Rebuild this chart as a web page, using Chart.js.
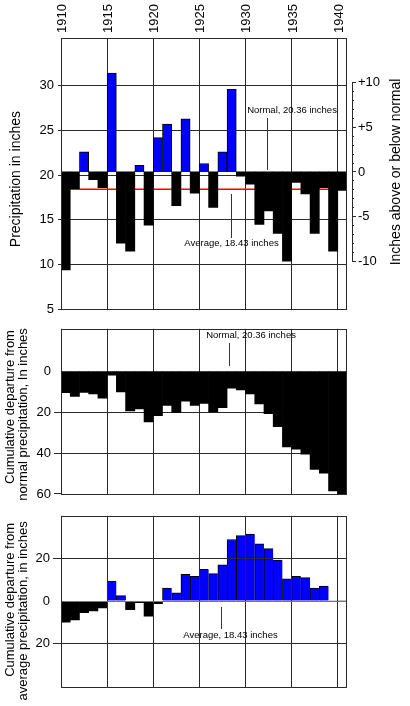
<!DOCTYPE html>
<html>
<head>
<meta charset="utf-8">
<script src="https://cdn.jsdelivr.net/npm/chart.js@4.4.1/dist/chart.umd.min.js"></script>
<style>
  html, body { margin: 0; padding: 0; background: #fff; width: 410px; height: 706px; overflow: hidden; }
  canvas { position: absolute; left: 0; }
  #c1 { top: 0; }
  #c2 { top: 318px; }
  #c3 { top: 505px; }
</style>
</head>
<body>
<canvas id="c1" width="410" height="322" style="width:410px;height:322px"></canvas>
<canvas id="c2" width="410" height="188" style="width:410px;height:188px"></canvas>
<canvas id="c3" width="410" height="201" style="width:410px;height:201px"></canvas>
<script>
// ---------------- data ----------------
const years = [1910, 1911, 1912, 1913, 1914, 1915, 1916, 1917, 1918, 1919,
               1920, 1921, 1922, 1923, 1924, 1925, 1926, 1927, 1928, 1929,
               1930, 1931, 1932, 1933, 1934, 1935, 1936, 1937, 1938, 1939, 1940];
const yearTicks = [1910, 1915, 1920, 1925, 1930, 1935, 1940];

// annual precipitation, inches
const precipitation = [9.4, 18.5, 22.6, 19.5, 18.6, 31.4, 12.4, 11.5, 21.1, 14.4,
                       24.2, 25.7, 16.6, 26.3, 18.0, 21.3, 16.4, 22.6, 29.6, 19.9,
                       19.0, 14.5, 16.0, 13.5, 10.4, 19.2, 17.9, 13.5, 18.6, 11.5, 18.3];
const normalPrecip = 20.36;
const averagePrecip = 18.43;

// cumulative departure from normal, inches
const cumFromNormal = [-10.5, -12.3, -10.4, -11.1, -13.2, -2.0, -10.2, -19.4, -18.5, -24.8,
                       -21.7, -16.7, -20.2, -14.7, -16.7, -15.7, -19.9, -17.8, -8.3, -9.2,
                       -11.1, -16.0, -20.8, -27.1, -37.0, -38.1, -40.6, -48.0, -49.8, -58.5, -60.2];

// cumulative departure from average, inches
const cumFromAverage = [-10.0, -8.9, -5.5, -4.7, -3.3, 9.4, 2.6, -4.1, -0.8, -7.1,
                        -1.2, 6.1, 3.9, 12.6, 11.7, 15.0, 13.0, 17.1, 29.1, 30.9,
                        31.7, 27.1, 24.8, 19.4, 10.5, 11.7, 11.1, 6.1, 7.1, 0.2, 0.0];

const precipTicks = [30, 25, 20, 15, 10, 5];
const departureTicks = [10, 5, 0, -5, -10];
const cumNormalTicks = [0, -20, -40, -60];
const cumAverageTicks = [20, 0, -20];

// ---------------- style ----------------
const FONT = "'Liberation Sans', Arial, Helvetica, sans-serif";
const GRID = '#2a2a2a';
const BLUE = '#0000ff';
const BLACK = '#000000';
const CLEAR = 'rgba(0,0,0,0)';
Chart.defaults.font.family = FONT;
Chart.defaults.font.size = 13;
Chart.defaults.color = '#000';
Chart.defaults.animation = false;

const X_MIN = 1910, X_MAX = 1941;

const framePlugin = {
  id: 'frame',
  afterDraw(chart) {
    const { ctx, chartArea: a } = chart;
    ctx.save();
    ctx.strokeStyle = GRID;
    ctx.lineWidth = 1;
    const l = Math.round(a.left) + 0.5, t = Math.round(a.top) + 0.5;
    const r = Math.round(a.right) - 0.5, b = Math.round(a.bottom) - 0.5;
    ctx.strokeRect(l, t, r - l, b - t);
    ctx.restore();
  }
};

const notesPlugin = {
  id: 'notes',
  afterDraw(chart, args, opts) {
    const xs = chart.scales.x, ys = chart.scales.y, ctx = chart.ctx;
    ctx.save();
    for (const n of (opts.items || [])) {
      if (n.line) {
        const px = Math.round(xs.getPixelForValue(n.line[0])) + 0.5;
        ctx.beginPath();
        ctx.moveTo(px, Math.round(ys.getPixelForValue(n.line[1])));
        ctx.lineTo(px, Math.round(ys.getPixelForValue(n.line[2])));
        ctx.strokeStyle = '#333';
        ctx.lineWidth = 1;
        ctx.stroke();
      }
      if (n.text) {
        ctx.font = '9.5px ' + FONT;
        ctx.fillStyle = '#000';
        ctx.textAlign = 'center';
        ctx.textBaseline = 'middle';
        ctx.fillText(n.text, xs.getPixelForValue(n.at[0]), ys.getPixelForValue(n.at[1]));
      }
    }
    ctx.restore();
  }
};

// rotated left-hand axis titles (one or two lines)
const leftTitlePlugin = {
  id: 'leftTitle',
  afterDraw(chart, args, opts) {
    const ctx = chart.ctx, a = chart.chartArea;
    const cy = (a.top + a.bottom) / 2;
    ctx.save();
    ctx.font = opts.size + 'px ' + FONT;
    ctx.fillStyle = '#000';
    ctx.textAlign = 'center';
    ctx.textBaseline = 'middle';
    (opts.lines || []).forEach((t, i) => {
      ctx.save();
      ctx.translate(opts.x[i], cy + opts.dy[i]);
      ctx.rotate(-Math.PI / 2);
      ctx.fillText(t, 0, 0);
      ctx.restore();
    });
    ctx.restore();
  }
};

const rightAxisPlugin = {
  id: 'rightAxis',
  afterDraw(chart, args, opts) {
    const s = chart.scales.y2;
    if (!s) return;
    const ctx = chart.ctx;
    const top = s.getPixelForValue(Math.max(...departureTicks));
    const bot = s.getPixelForValue(Math.min(...departureTicks));
    const x = Math.round(chart.chartArea.right + opts.gap) + 0.5;
    ctx.save();
    ctx.strokeStyle = GRID;
    ctx.lineWidth = 1;
    ctx.beginPath();
    ctx.moveTo(x, Math.round(top));
    ctx.lineTo(x, Math.round(bot) + 1);
    ctx.stroke();
    ctx.translate(opts.titleX, (top + bot) / 2);
    ctx.rotate(-Math.PI / 2);
    ctx.font = '14px ' + FONT;
    ctx.fillStyle = '#000';
    ctx.textAlign = 'center';
    ctx.textBaseline = 'alphabetic';
    ctx.fillText(opts.title, 0, 0);
    ctx.restore();
  }
};

function xAxis(position, withLabels, extra) {
  return Object.assign({
    type: 'linear', position, min: X_MIN, max: X_MAX, offset: false,
    afterBuildTicks: s => { s.ticks = yearTicks.map(v => ({ value: v })); },
    afterFit: s => { s.height = withLabels ? 38 : 0; },
    ticks: { display: withLabels, autoSkip: false, maxRotation: 90, minRotation: 90, padding: 5,
             labelOffset: 17, font: { size: 13 }, callback: v => String(v) },
    grid: { color: GRID, drawTicks: false, offset: false },
    border: { display: false }
  }, extra || {});
}

const xCenters = years.map(y => y + 0.5);

// ---------------- chart 1: annual precipitation ----------------
const depMin = 4.91, depMax = 35.33;
new Chart(document.getElementById('c1'), {
  data: {
    datasets: [
      {
        type: 'bar', label: 'Annual precipitation',
        data: years.map((y, i) => ({ x: xCenters[i], y: [normalPrecip, precipitation[i]] })),
        backgroundColor: c => precipitation[c.dataIndex] > normalPrecip ? BLUE : BLACK,
        borderColor: BLACK,
        borderWidth: c => precipitation[c.dataIndex] > normalPrecip ? 1 : 0,
        barPercentage: 1, categoryPercentage: 1,
        xAxisID: 'x', yAxisID: 'y', order: 1
      },
      {
        type: 'line', label: 'Average',
        data: [{ x: X_MIN, y: averagePrecip }, { x: X_MAX, y: averagePrecip }],
        borderColor: '#ff0000', borderWidth: 1.6, pointRadius: 0,
        xAxisID: 'x', yAxisID: 'y', order: 2
      }
    ]
  },
  options: {
    responsive: false,
    devicePixelRatio: 1,
    layout: { padding: { left: 0, right: 0, top: 0, bottom: 6 } },
    plugins: {
      legend: { display: false }, tooltip: { enabled: false },
      notes: { items: [
        { text: 'Normal, 20.36 inches', at: [1935.04, 27.2], line: [1932.33, 26.36, 20.56] },
        { text: 'Average, 18.43 inches', at: [1928.48, 12.35], line: [1928.42, 17.93, 13.0] }
      ] },
      rightAxis: { gap: 5, titleX: 400, title: 'Inches above or below normal' },
      leftTitle: { lines: ['Precipitation in inches'], x: [16], dy: [5], size: 14 }
    },
    scales: {
      x: xAxis('top', true),
      y: {
        type: 'linear', position: 'left', min: depMin, max: depMax,
        afterBuildTicks: s => { s.ticks = precipTicks.map(v => ({ value: v })); },
        afterFit: s => { s.width = 61; },
        ticks: { padding: 4, font: { size: 13 } },
        grid: { color: c => c.tick && c.tick.value === 5 ? CLEAR : GRID, tickColor: GRID, tickLength: 3 },
        border: { display: false }
      },
      y2: {
        type: 'linear', position: 'right',
        min: depMin - normalPrecip, max: depMax - normalPrecip,
        afterBuildTicks: s => {
          const t = [];
          for (let v = Math.min(...departureTicks); v <= Math.max(...departureTicks); v++) t.push({ value: v });
          s.ticks = t;
        },
        afterFit: s => { s.width = 63; },
        ticks: {
          padding: 2, font: { size: 13 }, autoSkip: false,
          callback: v => departureTicks.includes(v) ? (v > 0 ? '+' + v : String(v)) : ''
        },
        grid: {
          drawOnChartArea: false, drawTicks: true, tickLength: 9, color: GRID, tickColor: GRID,
          tickBorderDash: c => departureTicks.includes(c.tick.value) ? [4, 5] : [2, 5],
          tickBorderDashOffset: c => departureTicks.includes(c.tick.value) ? 4 : 2
        },
        border: { display: false }
      }
    }
  },
  plugins: [framePlugin, notesPlugin, rightAxisPlugin, leftTitlePlugin]
});

// ---------------- chart 2: cumulative departure from normal ----------------
new Chart(document.getElementById('c2'), {
  data: {
    datasets: [{
      type: 'bar', label: 'Cumulative departure from normal',
      data: years.map((y, i) => ({ x: xCenters[i], y: cumFromNormal[i] })),
      backgroundColor: BLACK, borderWidth: 0,
      barPercentage: 1, categoryPercentage: 1
    }]
  },
  options: {
    responsive: false,
    devicePixelRatio: 1,
    layout: { padding: { left: 0, right: 63, top: 4, bottom: 4 } },
    plugins: {
      legend: { display: false }, tooltip: { enabled: false },
      notes: { items: [
        { text: 'Normal, 20.36 inches', at: [1930.6, 17.5], line: [1928.21, 13.9, 2.6] }
      ] },
      leftTitle: { lines: ['Cumulative departure from', 'normal precipitation, In inches'],
                   x: [10.5, 23.5], dy: [-5, 2.5], size: 13 }
    },
    scales: {
      x: xAxis('bottom', false),
      y: {
        type: 'linear', position: 'left', min: -60.6, max: 20.7,
        afterBuildTicks: s => { s.ticks = cumNormalTicks.map(v => ({ value: v })); },
        afterFit: s => { s.width = 61; },
        ticks: { padding: 3, font: { size: 13 }, callback: v => String(Math.abs(v)) },
        grid: {
          color: c => (c.tick && (c.tick.value === 0 || c.tick.value === -60)) ? CLEAR : GRID,
          tickColor: c => (c.tick && c.tick.value === 0) ? CLEAR : GRID,
          tickLength: 7
        },
        border: { display: false }
      }
    }
  },
  plugins: [framePlugin, notesPlugin, leftTitlePlugin]
});

// ---------------- chart 3: cumulative departure from average ----------------
new Chart(document.getElementById('c3'), {
  data: {
    datasets: [{
      type: 'bar', label: 'Cumulative departure from average',
      data: years.map((y, i) => ({ x: xCenters[i], y: cumFromAverage[i] })),
      backgroundColor: c => cumFromAverage[c.dataIndex] > 0 ? BLUE : BLACK,
      borderColor: BLACK,
      borderWidth: c => {
        const v = cumFromAverage[c.dataIndex];
        if (!(v > 0)) return 0;
        const next = cumFromAverage[c.dataIndex + 1];
        return { top: 1, left: 1, bottom: 0, right: (next === undefined || next <= 0) ? 1 : 0 };
      },
      barPercentage: 1, categoryPercentage: 1
    }]
  },
  options: {
    responsive: false,
    devicePixelRatio: 1,
    layout: { padding: { left: 0, right: 63, top: 4, bottom: 18 } },
    plugins: {
      legend: { display: false }, tooltip: { enabled: false },
      notes: { items: [
        { text: 'Average, 18.43 inches', at: [1928.37, -16.0], line: [1927.31, -2.9, -13.3] }
      ] },
      leftTitle: { lines: ['Cumulative departure from', 'average precipitation, in inches'],
                   x: [10.5, 23.5], dy: [-2, 9], size: 13 }
    },
    scales: {
      x: xAxis('bottom', false, { grid: { color: GRID, drawTicks: false, offset: false, z: 1 } }),
      y: {
        type: 'linear', position: 'left', min: -41.1, max: 40.3,
        afterBuildTicks: s => { s.ticks = cumAverageTicks.map(v => ({ value: v })); },
        afterFit: s => { s.width = 61; },
        ticks: { padding: 3, font: { size: 13 }, callback: v => String(Math.abs(v)) },
        grid: {
          z: 1,
          color: c => (c.tick && c.tick.value === 0) ? '#777' : GRID,
          tickColor: c => (c.tick && c.tick.value === 0) ? CLEAR : GRID,
          tickLength: 8
        },
        border: { display: false }
      }
    }
  },
  plugins: [framePlugin, notesPlugin, leftTitlePlugin]
});
</script>
</body>
</html>
